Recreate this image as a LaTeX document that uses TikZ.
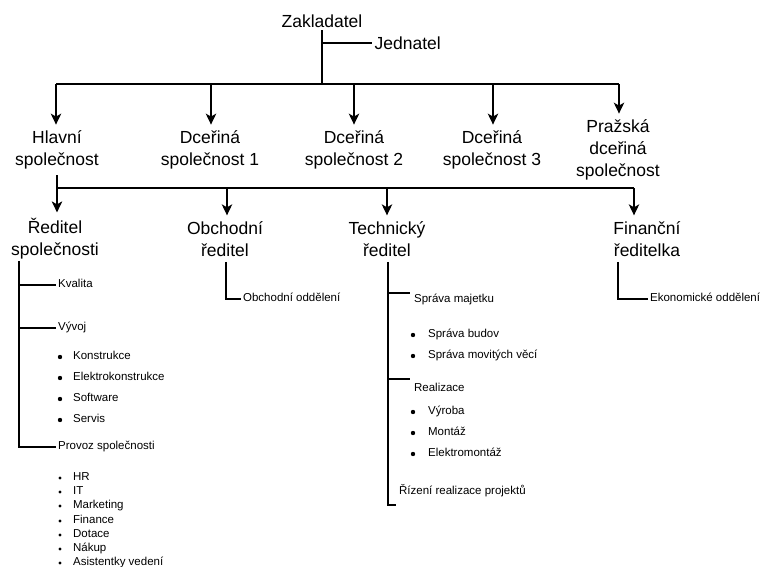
\documentclass[tikz,border=0pt]{standalone}
\usepackage{fontspec}
\setmainfont{Liberation Sans}
\usetikzlibrary{arrows.meta,calc}
\begin{document}
\begin{tikzpicture}[x=1pt,y=-1pt,
  line width=1.3pt,
  big/.style={font=\fontsize{17.5}{22}\selectfont, align=center, inner sep=5.5pt},
  sm/.style={font=\fontsize{11.5}{14}\selectfont, anchor=west, inner sep=1.5pt, text height=0.75em, text depth=0.22em},
  arr/.style={-{Stealth[length=11pt,width=10.5pt,inset=3pt]}},
  dot/.style={circle, fill=black, inner sep=0pt, minimum size=4.4pt},
  sdot/.style={circle, fill=black, inner sep=0pt, minimum size=3.4pt}
]
\fill[white] (0,0) rectangle (764,567);
\useasboundingbox (0,0) rectangle (764,567);

% ---- top level
\node[big, inner sep=2pt] (zak) at (322,21) {Zakladatel};
\node[big, anchor=west, inner sep=2pt] (jed) at (372,43) {Jednatel};
\coordinate (j1) at (322,84);
\draw (zak.south) -- (j1);
\draw (zak.south |- jed.west) -- (jed.west);

% ---- companies
\node[big] (hl) at (57,150) {Hlavní\\společnost};
\node[big] (d1) at (210,150) {Dceřiná\\společnost 1};
\node[big] (d2) at (354,150) {Dceřiná\\společnost 2};
\node[big] (d3) at (492,150) {Dceřiná\\společnost 3};
\node[big] (pd) at (618,150) {Pražská\\dceřiná\\společnost};
\coordinate (a0) at (56,84);
\coordinate (a1) at (211,84);
\coordinate (a2) at (354,84);
\coordinate (a3) at (493,84);
\coordinate (a4) at (619,84);
\draw (a0) -- (a4);
\draw[arr] (a0) -- (a0 |- hl.north);
\draw[arr] (a1) -- (a1 |- d1.north);
\draw[arr] (a2) -- (a2 |- d2.north);
\draw[arr] (a3) -- (a3 |- d3.north);
\draw[arr] (a4) -- (a4 |- pd.north);

% ---- directors
\node[big] (red) at (55,239) {Ředitel\\společnosti};
\node[big] (obr) at (225,239) {Obchodní\\ředitel};
\node[big] (ter) at (387,239) {Technický\\ředitel};
\node[big] (fir) at (647,239) {Finanční\\ředitelka};
\coordinate (b0) at (57,188);
\coordinate (b1) at (227,188);
\coordinate (b2) at (387,188);
\coordinate (b3) at (634,188);
\draw (hl.south -| b0) -- (b0) -- (b3);
\draw[arr] (b0) -- (b0 |- red.north);
\draw[arr] (b1) -- (b1 |- obr.north);
\draw[arr] (b2) -- (b2 |- ter.north);
\draw[arr] (b3) -- (b3 |- fir.north);

% ---- Reditel spolecnosti
\coordinate (r0) at (19,261);
\node[sm] (kva) at (56,285) {Kvalita};
\node[sm] (vyv) at (56,328) {Vývoj};
\node[sm] (pro) at (56,447) {Provoz společnosti};
\draw (r0) |- (pro.west);
\draw (r0 |- kva.west) -- (kva.west);
\draw (r0 |- vyv.west) -- (vyv.west);
\foreach \t/\y [count=\i] in {Konstrukce/357, Elektrokonstrukce/378, Software/399, Servis/420}{
  \node[dot] (vb\i) at (60,\y) {};
  \node[sm] (vt\i) at (71,\y) {\t};
}
\foreach \t/\y [count=\i] in {HR/478, IT/492, Marketing/506, Finance/521, Dotace/535, Nákup/549, Asistentky vedení/563}{
  \node[sdot] (pb\i) at (60,\y) {};
  \node[sm] (pt\i) at (71,\y) {\t};
}

% ---- Obchodni reditel
\coordinate (o0) at (226,262);
\node[sm] (obo) at (241,299) {Obchodní oddělení};
\draw (o0) |- (obo.west);

% ---- Technicky reditel
\coordinate (t0) at (388,262);
\coordinate (t1) at (388,293);
\coordinate (t1e) at (410,293);
\coordinate (t2) at (388,379);
\coordinate (t2e) at (410,379);
\coordinate (t3) at (388,505);
\coordinate (t3e) at (396,505);
\draw (t0) -- (t3) -- (t3e);
\draw (t1) -- (t1e);
\draw (t2) -- (t2e);
\node[sm] (spm) at (412,300) {Správa majetku};
\node[sm] (rea) at (412,389) {Realizace};
\node[sm] (riz) at (397,492) {Řízení realizace projektů};
\foreach \t/\y [count=\i] in {Správa budov/335, Správa movitých věcí/356, Výroba/412, Montáž/433, Elektromontáž/454}{
  \node[dot] (tb\i) at (413,\y) {};
  \node[sm] (tt\i) at (426,\y) {\t};
}

% ---- Financni reditelka
\coordinate (f0) at (618,262);
\node[sm] (eko) at (648,299) {Ekonomické oddělení};
\draw (f0) |- (eko.west);
\end{tikzpicture}
\end{document}
